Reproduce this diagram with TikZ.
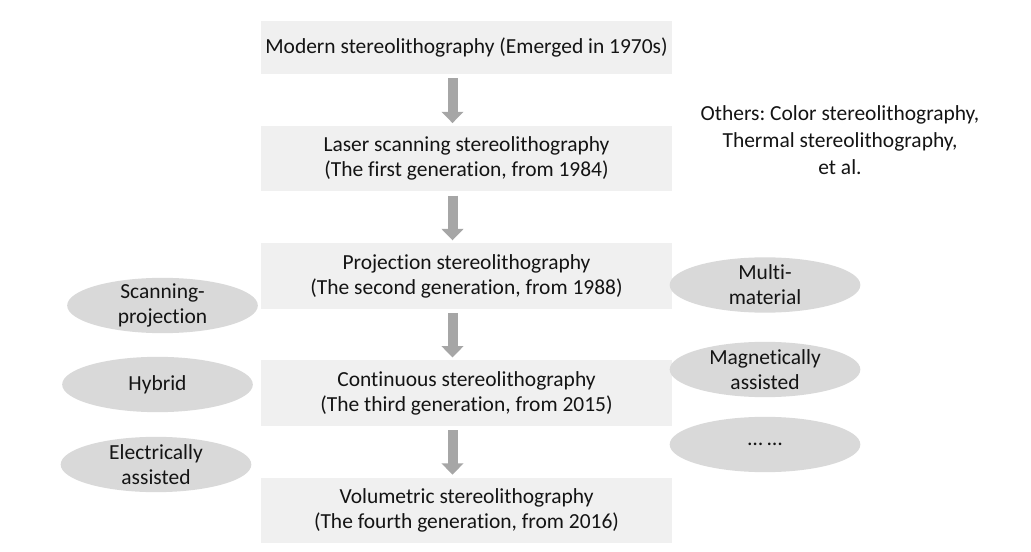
\documentclass[tikz,border=0pt]{standalone}
\usepackage{fontspec}
\setmainfont{Carlito}[Ligatures=NoCommon]
\frenchspacing
\usetikzlibrary{positioning, shapes.geometric, arrows.meta}
\newcommand{\lModern}{Modern stereolithography (Emerged in 1970s)}
\newcommand{\lLaser}{Laser scanning stereolithography\\(The first generation, from 1984)}
\newcommand{\lProjection}{Projection stereolithography\\(The second generation, from 1988)}
\newcommand{\lContinuous}{Continuous stereolithography\\(The third generation, from 2015)}
\newcommand{\lVolumetric}{Volumetric stereolithography\\(The fourth generation, from 2016)}
\newcommand{\lOthers}{Others: Color stereolithography,\\Thermal stereolithography,\\et al.}
\definecolor{themeBox}{RGB}{240, 240, 240}
\definecolor{themeArrow}{RGB}{166, 166, 166}
\definecolor{themeOval}{RGB}{217, 217, 217}
\definecolor{themeText}{RGB}{20, 20, 20}

\begin{document}
\begin{tikzpicture} [
        x=0.75pt, y=-0.75pt,
        font=\fontsize{16.1}{18.75}\selectfont,
        every node/.style={text=themeText},
        node distance=38.5pt,
        genbox/.style={fill=themeBox, minimum width=308pt, minimum height=49pt,
                       inner xsep=0pt, align=center},
        genarrow/.style={draw=themeArrow, line width=7.5pt,
                         -{Triangle[width=16pt, length=8.5pt]},
                         shorten <=3pt, shorten >=2pt},
        oval/.style={ellipse, fill=themeOval, minimum width=143pt,
                     minimum height=41.5pt, inner sep=0pt},
        ovaltext/.style={align=center}
    ]

    \useasboundingbox (0, 0) rectangle (1031, 552);

    % generations
    \node[genbox, minimum height=40pt] (modern) at (466.5, 47.5) {\lModern};
    \node[genbox, below=of modern] (laser) {\lLaser};
    \node[genbox, below=of laser] (projection) {\lProjection};
    \node[genbox, below=of projection] (continuous) {\lContinuous};
    \node[genbox, below=of continuous] (volumetric) {\lVolumetric};

    \foreach \a/\b in {modern/laser, laser/projection, projection/continuous, continuous/volumetric} {
        \draw[genarrow] ([xshift=-10.5pt]\a.south) -- ([xshift=-10.5pt]\b.north);
    }

    % variants, left
    \node[oval, label={[ovaltext]center:Scanning-\\projection}] (scanproj) at (162.5, 305.5) {};
    \node[oval, label={[ovaltext]center:Hybrid}] (hybrid) at (157.5, 384.5) {};
    \node[oval, label={[ovaltext]center:Electrically\\assisted}] (electric) at (156, 464.5) {};

    % variants, right
    \node[oval, label={[ovaltext]center:Multi-\\material}] (multimat) at (765, 285) {};
    \node[oval, label={[ovaltext]center:Magnetically\\assisted}] (magnetic) at (765, 369.5) {};
    \node[oval, label={[ovaltext]center:… …}] (moreoval) at (765, 444.5) {};

    \node[align=center, font=\fontsize{16.1}{20.25}\selectfont] (others) at (840, 140) {\lOthers};

\end{tikzpicture}
\end{document}
